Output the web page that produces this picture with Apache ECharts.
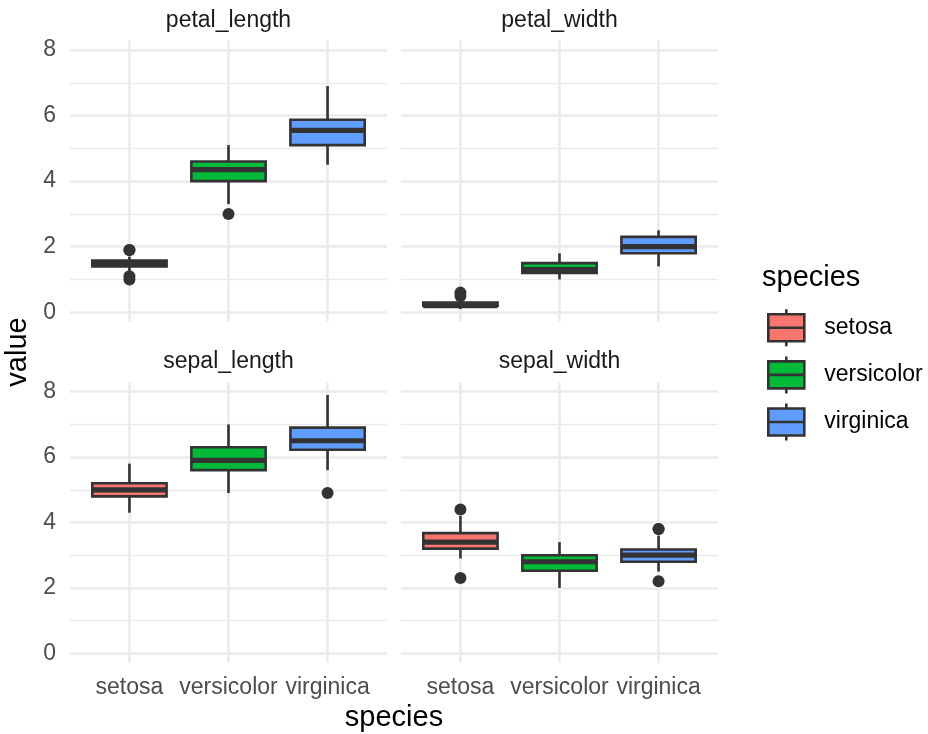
<!DOCTYPE html>
<html>
<head>
<meta charset="utf-8">
<title>Iris measurements by species</title>
<script src="https://cdn.jsdelivr.net/npm/echarts@6/dist/echarts.min.js"></script>
<style>
  html, body { margin: 0; padding: 0; background: #ffffff; }
  #chart { width: 928px; height: 734px; }
</style>
</head>
<body>
<div id="chart"></div>
<script>
// Species (x categories) and their fill colours
const species = ['setosa', 'versicolor', 'virginica'];
const speciesColors = ['#F8766D', '#00BA38', '#619CFF'];

// Facet panels, in reading order
const measures = ['petal_length', 'petal_width', 'sepal_length', 'sepal_width'];

// Box statistics per species: [lower whisker, Q1, median, Q3, upper whisker]
const petalLengthStats = [[1.2, 1.4, 1.5, 1.575, 1.7], [3.3, 4.0, 4.35, 4.6, 5.1], [4.5, 5.1, 5.55, 5.875, 6.9]];
const petalWidthStats  = [[0.1, 0.2, 0.2, 0.3, 0.4],   [1.0, 1.2, 1.3, 1.5, 1.8],   [1.4, 1.8, 2.0, 2.3, 2.5]];
const sepalLengthStats = [[4.3, 4.8, 5.0, 5.2, 5.8],   [4.9, 5.6, 5.9, 6.3, 7.0],   [5.6, 6.225, 6.5, 6.9, 7.9]];
const sepalWidthStats  = [[2.9, 3.2, 3.4, 3.675, 4.2], [2.0, 2.525, 2.8, 3.0, 3.4], [2.5, 2.8, 3.0, 3.175, 3.6]];

// Outlying points: [species index (1-based), value]
const petalLengthOutliers = [[1, 1.0], [1, 1.1], [1, 1.9], [1, 1.9], [2, 3.0]];
const petalWidthOutliers  = [[1, 0.5], [1, 0.6]];
const sepalLengthOutliers = [[3, 4.9]];
const sepalWidthOutliers  = [[1, 2.3], [1, 4.4], [3, 2.2], [3, 3.8], [3, 3.8]];

// Value-axis ticks
const majorTicks = [0, 2, 4, 6, 8];
const minorTicks = [1, 3, 5, 7];

const panelStats = [petalLengthStats, petalWidthStats, sepalLengthStats, sepalWidthStats];
const panelOutliers = [petalLengthOutliers, petalWidthOutliers, sepalLengthOutliers, sepalWidthOutliers];

// ---- layout ----
const PANEL_LEFT = [70, 401, 70, 401];
const PANEL_TOP = [40.5, 40.5, 382.2, 382.2];
const PANEL_W = 317;
const PANEL_H = [281.3, 281.3, 280.6, 280.6];
const Y_MIN = -0.29, Y_MAX = 8.29;
const X_MIN = 0.4, X_MAX = 3.6;
const BOX_HALF = 0.375;

const INK = '#333333';
const GRID_COLOR = '#ebebeb';
const FONT = '"Liberation Sans", Arial, sans-serif';
const TICK_SIZE = 23;
const TITLE_SIZE = 29;

const grids = [], xAxes = [], yAxes = [], series = [];

measures.forEach((m, p) => {
  const isLeft = p % 2 === 0;
  const isBottom = p >= 2;
  grids.push({ left: PANEL_LEFT[p], top: PANEL_TOP[p], width: PANEL_W, height: PANEL_H[p], containLabel: false });

  xAxes.push({
    type: 'value', gridIndex: p, min: X_MIN, max: X_MAX,
    axisLine: { show: false },
    axisTick: { show: false, customValues: [1, 2, 3] },
    axisLabel: {
      show: isBottom, customValues: [1, 2, 3], margin: 13,
      color: '#4d4d4d', fontSize: TICK_SIZE, fontFamily: FONT,
      formatter: v => species[Math.round(v) - 1] || ''
    },
    splitLine: { show: true, lineStyle: { color: GRID_COLOR, width: 2.6 } }
  });

  // major value gridlines + labels
  yAxes.push({
    type: 'value', gridIndex: p, min: Y_MIN, max: Y_MAX, position: 'left',
    axisLine: { show: false },
    axisTick: { show: false, customValues: majorTicks },
    axisLabel: {
      show: isLeft, customValues: majorTicks, margin: 14,
      color: '#4d4d4d', fontSize: TICK_SIZE, fontFamily: FONT
    },
    splitLine: { show: true, lineStyle: { color: GRID_COLOR, width: 2.6 } }
  });
  // minor value gridlines
  yAxes.push({
    type: 'value', gridIndex: p, min: Y_MIN, max: Y_MAX, position: 'left',
    axisLine: { show: false },
    axisTick: { show: false, customValues: minorTicks },
    axisLabel: { show: false, customValues: minorTicks },
    splitLine: { show: true, lineStyle: { color: GRID_COLOR, width: 1.3 } }
  });

  const yMajor = p * 2;
  species.forEach((s, i) => {
    const st = panelStats[p][i];
    series.push({
      type: 'custom', name: s, xAxisIndex: p, yAxisIndex: yMajor,
      itemStyle: { color: speciesColors[i] },
      encode: { x: 0, y: [1, 2, 3, 4, 5] },
      data: [[i + 1].concat(st)],
      renderItem: renderBox,
      z: 3
    });
  });

  series.push({
    type: 'scatter', name: 'outliers', xAxisIndex: p, yAxisIndex: yMajor,
    symbol: 'circle', symbolSize: 12,
    itemStyle: { color: INK, opacity: 1 },
    data: panelOutliers[p],
    z: 4
  });
});

function renderBox(params, api) {
  const x = api.value(0);
  const lo = api.value(1), q1 = api.value(2), med = api.value(3), q3 = api.value(4), hi = api.value(5);
  const pLo = api.coord([x, lo]);
  const pQ1 = api.coord([x, q1]);
  const pMed = api.coord([x, med]);
  const pQ3 = api.coord([x, q3]);
  const pHi = api.coord([x, hi]);
  const tl = api.coord([x - BOX_HALF, q3]);
  const br = api.coord([x + BOX_HALF, q1]);
  const lineStyle = { stroke: INK, lineWidth: 2.6 };
  return {
    type: 'group',
    children: [
      { type: 'line', shape: { x1: pLo[0], y1: pLo[1], x2: pQ1[0], y2: pQ1[1] }, style: lineStyle },
      { type: 'line', shape: { x1: pQ3[0], y1: pQ3[1], x2: pHi[0], y2: pHi[1] }, style: lineStyle },
      { type: 'rect', shape: { x: tl[0], y: tl[1], width: br[0] - tl[0], height: br[1] - tl[1] },
        style: { fill: api.visual('color'), stroke: INK, lineWidth: 2.6 } },
      { type: 'line', shape: { x1: tl[0], y1: pMed[1], x2: br[0], y2: pMed[1] },
        style: { stroke: INK, lineWidth: 5.2 } }
    ]
  };
}

// Facet strip labels and axis titles
const stripCenters = [[228.5, 21], [559.5, 21], [228.5, 362], [559.5, 362]];
const texts = measures.map((m, p) => ({
  type: 'text', x: stripCenters[p][0], y: stripCenters[p][1],
  style: { text: m, fill: '#1a1a1a', font: `${TICK_SIZE}px ${FONT}`, textAlign: 'center', textVerticalAlign: 'middle' }
}));
texts.push({
  type: 'text', x: 394, y: 718,
  style: { text: 'species', fill: '#000000', font: `${TITLE_SIZE}px ${FONT}`, textAlign: 'center', textVerticalAlign: 'middle' }
});
texts.push({
  type: 'text', x: 18, y: 352, rotation: Math.PI / 2,
  style: { text: 'value', fill: '#000000', font: `${TITLE_SIZE}px ${FONT}`, textAlign: 'center', textVerticalAlign: 'middle' }
});
texts.push({
  type: 'text', x: 762, y: 278,
  style: { text: 'species', fill: '#000000', font: `${TITLE_SIZE}px ${FONT}`, textAlign: 'left', textVerticalAlign: 'middle' }
});

const chart = echarts.init(document.getElementById('chart'), null, { renderer: 'canvas' });
chart.setOption({
  backgroundColor: '#ffffff',
  animation: false,
  grid: grids,
  xAxis: xAxes,
  yAxis: yAxes,
  legend: {
    data: species,
    orient: 'vertical',
    left: 767, top: 308,
    padding: 0,
    itemWidth: 36, itemHeight: 37, itemGap: 7.5,
    icon: 'path://M0,5L36,5L36,32L0,32ZM0,18.5L36,18.5M18,0L18,5M18,32L18,37',
    itemStyle: { borderColor: INK, borderWidth: 2.6 },
    textStyle: { color: '#000000', fontSize: TICK_SIZE, fontFamily: FONT, padding: [0, 0, 0, 15] },
    selectedMode: false
  },
  graphic: texts,
  series: series
});
</script>
</body>
</html>
